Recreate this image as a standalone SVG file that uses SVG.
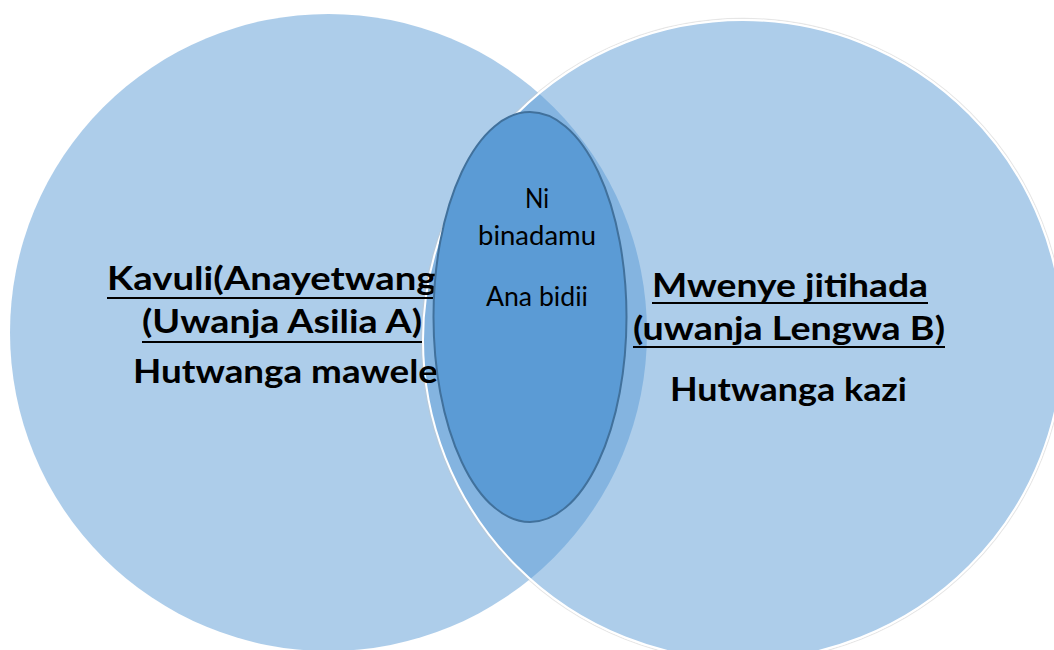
<svg xmlns="http://www.w3.org/2000/svg" width="1054" height="650" viewBox="0 0 1054 650">
  <style>
    .set { fill: #5B9BD5; fill-opacity: 0.5; }
    .rim { fill: none; stroke: #ffffff; stroke-width: 2; }
    .halo { fill: none; stroke: #c8c8c8; stroke-width: 1.2; stroke-opacity: 0.45; }
    .head { font-family: Lato, "Liberation Sans", sans-serif; font-weight: bold; font-size: 33px; fill: #000; }
    .body { font-family: Lato, "Liberation Sans", sans-serif; font-size: 26px; fill: #000; }
    .ul { stroke: #000; stroke-width: 2; }
  </style>
  <rect width="1054" height="650" fill="#ffffff"/>

  <!-- Set A: source domain -->
  <g id="set-a">
    <circle class="set" cx="328.5" cy="332.5" r="318.5"/>
  </g>

  <!-- Set B: target domain -->
  <g id="set-b">
    <circle class="set" cx="743" cy="340" r="320"/>
    <circle class="halo" cx="743" cy="340" r="321.6"/>
    <circle class="rim" cx="743" cy="340" r="320"/>
  </g>

  <!-- Labels of set A -->
  <g id="label-a">
    <text class="head" x="107" y="290" textLength="349" lengthAdjust="spacingAndGlyphs">Kavuli(Anayetwanga</text>
    <line class="ul" x1="107" y1="298" x2="456" y2="298"/>
    <text class="head" x="142" y="333" textLength="280" lengthAdjust="spacingAndGlyphs">(Uwanja Asilia A)</text>
    <line class="ul" x1="142" y1="342" x2="422" y2="342"/>
    <text class="head" x="133" y="383" textLength="305" lengthAdjust="spacingAndGlyphs">Hutwanga mawele</text>
  </g>

  <!-- Labels of set B -->
  <g id="label-b">
    <text class="head" x="652" y="297" textLength="276" lengthAdjust="spacingAndGlyphs">Mwenye jitihada</text>
    <line class="ul" x1="652" y1="303" x2="928" y2="303"/>
    <text class="head" x="633" y="340" textLength="312" lengthAdjust="spacingAndGlyphs">(uwanja Lengwa B)</text>
    <line class="ul" x1="633" y1="347" x2="945" y2="347"/>
    <text class="head" x="670" y="401" textLength="237" lengthAdjust="spacingAndGlyphs">Hutwanga kazi</text>
  </g>

  <!-- Shared traits -->
  <g id="shared">
    <ellipse cx="530" cy="317" rx="96.5" ry="205" fill="#5B9BD5" stroke="#41719C" stroke-width="2"/>
    <text class="body" x="525" y="208" textLength="24" lengthAdjust="spacingAndGlyphs">Ni</text>
    <text class="body" x="478" y="245" textLength="118" lengthAdjust="spacingAndGlyphs">binadamu</text>
    <text class="body" x="486" y="306" textLength="102" lengthAdjust="spacingAndGlyphs">Ana bidii</text>
  </g>
</svg>
